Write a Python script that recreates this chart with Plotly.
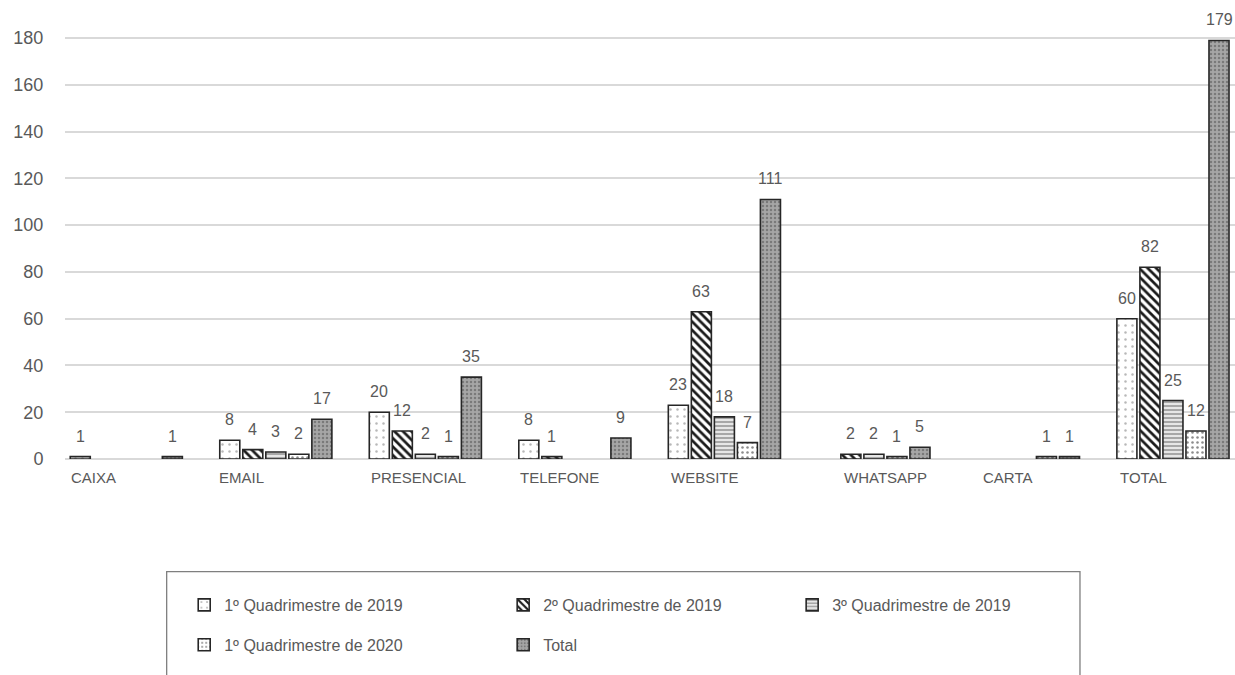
import plotly.graph_objects as go

# Atendimentos por canal e por quadrimestre
categories = ["CAIXA", "EMAIL", "PRESENCIAL", "TELEFONE", "WEBSITE", "WHATSAPP", "CARTA", "TOTAL"]
q1_2019 = [1, 8, 20, 8, 23, 0, 0, 60]
q2_2019 = [0, 4, 12, 1, 63, 2, 0, 82]
q3_2019 = [0, 3, 2, 0, 18, 2, 0, 25]
q1_2020 = [0, 2, 1, 0, 7, 1, 1, 12]
total = [1, 17, 35, 9, 111, 5, 1, 179]

series_names = [
    "1º Quadrimestre de 2019",
    "2º Quadrimestre de 2019",
    "3º Quadrimestre de 2019",
    "1º Quadrimestre de 2020",
    "Total",
]
y_ticks = [0, 20, 40, 60, 80, 100, 120, 140, 160, 180]

# fill patterns (black & white print style)
patterns = [
    dict(shape=".", bgcolor="#ffffff", fgcolor="#b8b8b8", size=7, solidity=0.1, fillmode="replace"),
    dict(shape="\\", bgcolor="#ffffff", fgcolor="#1a1a1a", size=6, solidity=0.45, fillmode="replace"),
    dict(shape="-", bgcolor="#e6e6e6", fgcolor="#8c8c8c", size=4, solidity=0.35, fillmode="replace"),
    dict(shape=".", bgcolor="#ffffff", fgcolor="#8c8c8c", size=5, solidity=0.2, fillmode="replace"),
    dict(shape=".", bgcolor="#a6a6a6", fgcolor="#7a7a7a", size=4, solidity=0.3, fillmode="replace"),
]

# one single-item legend per series so each entry sits in its own slot
legend_keys = ["legend", "legend2", "legend3", "legend4", "legend5"]
legend_slots = [  # (x, y) in paper units
    (0.1019, -0.318),
    (0.3745, -0.318),
    (0.6215, -0.318),
    (0.1019, -0.405),
    (0.3745, -0.405),
]

FONT = "Liberation Sans, Arial, sans-serif"
TEXT_GRAY = "#595959"
BARGAP = 0.23

fig = go.Figure()
all_series = [q1_2019, q2_2019, q3_2019, q1_2020, total]
for name, values, pat, lkey in zip(series_names, all_series, patterns, legend_keys):
    fig.add_trace(go.Bar(
        name=name,
        x=categories,
        y=[v if v else None for v in values],
        marker=dict(color=pat["bgcolor"], pattern=pat,
                    line=dict(color="#262626", width=1.6)),
        legend=lkey,
        hoverinfo="x+y+name",
    ))

annotations = []

# value labels above each non-zero bar, placed at the centre of its group slot
slot = (1 - BARGAP) / len(all_series)
for k, values in enumerate(all_series):
    offset = (k - (len(all_series) - 1) / 2) * slot
    for i, v in enumerate(values):
        if not v:
            continue
        annotations.append(dict(
            x=i + offset, xref="x", y=v, yref="y",
            xanchor="center", yanchor="bottom", yshift=10,
            showarrow=False, text=str(v),
            font=dict(family=FONT, size=16, color=TEXT_GRAY),
        ))

# category labels, left-aligned under each group
label_shift = [-57, -59, -56, -57, -55, -32, -42, -55]
for cat, dx in zip(categories, label_shift):
    annotations.append(dict(
        x=cat, xref="x", y=0, yref="y", xanchor="left", yanchor="middle",
        xshift=dx, yshift=-18, showarrow=False, text=cat,
        font=dict(family=FONT, size=15, color=TEXT_GRAY),
    ))

layout_legends = {}
for lkey, (lx, ly) in zip(legend_keys, legend_slots):
    layout_legends[lkey] = dict(
        x=lx, y=ly, xanchor="left", yanchor="middle",
        orientation="h", bgcolor="rgba(0,0,0,0)", borderwidth=0,
        font=dict(family=FONT, size=16, color=TEXT_GRAY),
    )

fig.update_layout(
    width=1235, height=675,
    margin=dict(l=65, r=0, t=0, b=216),
    paper_bgcolor="white", plot_bgcolor="white",
    barmode="group", bargap=BARGAP, bargroupgap=0.13,
    showlegend=True,
    font=dict(family=FONT, size=16, color=TEXT_GRAY),
    xaxis=dict(
        type="category", range=[-0.41, 7.415], showticklabels=False,
        showgrid=False, zeroline=False, showline=False, ticks="",
    ),
    yaxis=dict(
        range=[0, 196.3], tickvals=y_ticks, showgrid=True,
        gridcolor="#d9d9d9", gridwidth=2, zeroline=True, zerolinecolor="#d9d9d9",
        zerolinewidth=2, showline=False, ticks="outside", ticklen=17,
        tickcolor="rgba(0,0,0,0)",
        tickfont=dict(family=FONT, size=18, color=TEXT_GRAY),
    ),
    annotations=annotations,
    shapes=[dict(
        type="rect", xref="paper", yref="paper",
        x0=0.0869, x1=0.8675, y0=-0.2455, y1=-0.49,
        line=dict(color="#7f7f7f", width=1.3), fillcolor="rgba(0,0,0,0)",
        layer="below",
    )],
    **layout_legends,
)

fig.write_html("out.html")
